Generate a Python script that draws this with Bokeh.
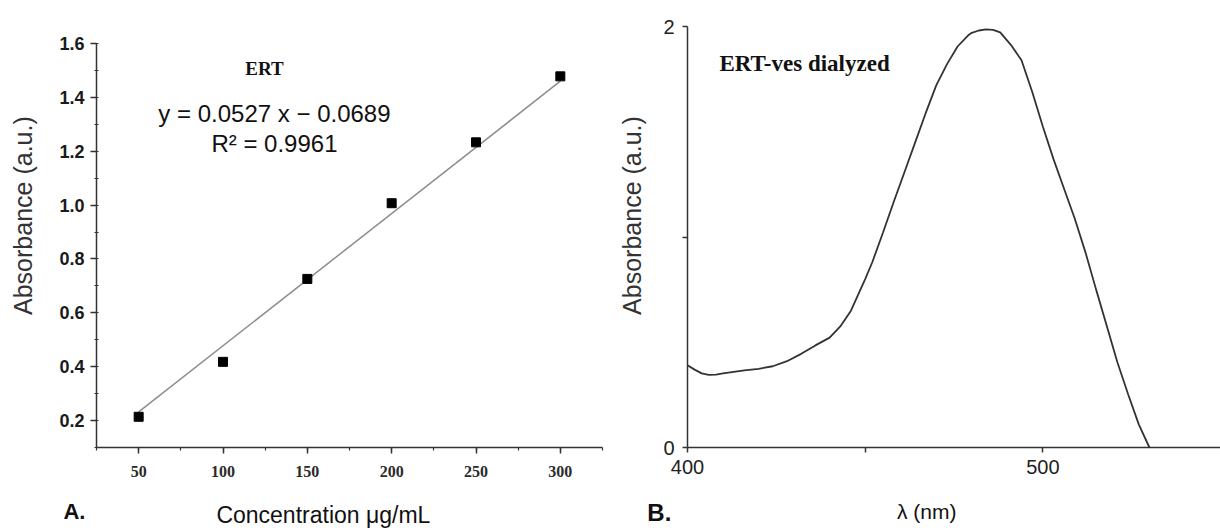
from math import pi
from bokeh.plotting import figure
from bokeh.layouts import row
from bokeh.models import Label, SingleIntervalTicker, FixedTicker, Range1d, PrintfTickFormatter
from bokeh.embed import file_html
from bokeh.resources import INLINE

# ---- Panel A data: calibration curve ----
conc = [50, 100, 150, 200, 250, 300]
absorb = [0.214, 0.418, 0.726, 1.007, 1.233, 1.478]
fit_x = [50, 300]
fit_y = [0.232, 1.46]

# ---- Panel B data: spectrum ----
wl = [400, 402, 404, 406, 408, 410, 413, 416, 420, 424, 428, 432, 436, 440, 443, 446,
      448, 450, 452, 455, 458, 461, 464, 467, 470, 473, 476, 479, 480, 482, 484, 486, 488,
      491, 494, 497, 500, 503, 506, 509, 512, 515, 518, 521, 524, 527, 530]
spec = [0.391, 0.37, 0.352, 0.345, 0.346, 0.352, 0.359, 0.366, 0.374, 0.386, 0.41, 0.445,
        0.485, 0.522, 0.575, 0.65, 0.725, 0.80, 0.88, 1.02, 1.165, 1.305, 1.446, 1.587, 1.72,
        1.82, 1.905, 1.958, 1.97, 1.981, 1.986, 1.984, 1.972, 1.913, 1.84, 1.69, 1.525, 1.37,
        1.228, 1.087, 0.927, 0.75, 0.577, 0.404, 0.253, 0.11, 0.0]

SANS = "Liberation Sans"
SERIF = "Liberation Serif"
AX = "#333333"
H = 531
TOP = 26
BOTTOM = 84


def style(p):
    p.outline_line_color = None
    p.xgrid.visible = False
    p.ygrid.visible = False
    p.background_fill_color = "white"
    p.border_fill_color = "white"
    for ax in (p.xaxis[0], p.yaxis[0]):
        ax.axis_line_color = AX
        ax.axis_line_width = 1.5
        ax.major_tick_line_color = AX
        ax.major_tick_line_width = 1.5
        ax.minor_tick_line_color = AX
        ax.minor_tick_line_width = 1.2
        ax.major_tick_in = 0
        ax.major_tick_out = 6


def label(p, side, **kw):
    kw.setdefault("text_align", "center")
    kw.setdefault("text_baseline", "middle")
    kw.setdefault("text_color", "#111111")
    lab = Label(**kw)
    if side == "center":
        p.add_layout(lab)
    else:
        p.add_layout(lab, side)


# ---------------- Panel A ----------------
p1 = figure(width=610, height=H, x_range=Range1d(25, 325), y_range=Range1d(0.1, 1.6631),
            output_backend="svg", toolbar_location=None,
            min_border_left=96, min_border_right=8, min_border_top=TOP, min_border_bottom=BOTTOM)
style(p1)
p1.yaxis.bounds = (0.1, 1.6)
p1.xaxis.ticker = SingleIntervalTicker(interval=50, num_minor_ticks=2)
p1.yaxis.ticker = SingleIntervalTicker(interval=0.2, num_minor_ticks=2)
p1.yaxis.formatter = PrintfTickFormatter(format="%.1f")
p1.xaxis.minor_tick_in = 0
p1.xaxis.minor_tick_out = 3
p1.yaxis.minor_tick_in = 2
p1.yaxis.minor_tick_out = 2
p1.yaxis.major_label_text_font = SANS
p1.yaxis.major_label_text_font_style = "bold"
p1.yaxis.major_label_text_font_size = "18px"
p1.yaxis.major_label_text_color = "#1a1a1a"
p1.yaxis.major_label_standoff = 6
p1.xaxis.major_label_text_font = SERIF
p1.xaxis.major_label_text_font_style = "bold"
p1.xaxis.major_label_text_font_size = "16px"
p1.xaxis.major_label_text_color = "#2a2a2a"
p1.xaxis.major_label_standoff = 12

p1.line(fit_x, fit_y, line_color="#8c8c8c", line_width=1.5)
p1.scatter(conc, absorb, marker="square", size=9, fill_color="black", line_color="black")

label(p1, "center", x=124.6, y=1.507, text="ERT", text_font=SERIF, text_font_style="bold",
      text_font_size="19px")
label(p1, "center", x=130.5, y=1.340, text="y = 0.0527 x \u2212 0.0689", text_font=SANS,
      text_font_size="24px")
label(p1, "center", x=130.5, y=1.229, text="R\u00b2 = 0.9961", text_font=SANS,
      text_font_size="24px")
label(p1, "left", x=-18.3, y=0.961, text="Absorbance (a.u.)", angle=pi / 2, text_font=SANS,
      text_font_size="25px", text_color="#333333")
label(p1, "below", x=161.4, y=-0.152, text="Concentration  \u03bcg/mL", text_font=SANS,
      text_font_size="23px")
label(p1, "left", x=5.4, y=-0.138, text="A.", text_font=SANS, text_font_style="bold",
      text_font_size="22px", text_align="left")

# ---------------- Panel B ----------------
p2 = figure(width=610, height=H, x_range=Range1d(400, 550), y_range=Range1d(0, 2),
            output_backend="svg", toolbar_location=None,
            min_border_left=77, min_border_right=0, min_border_top=TOP, min_border_bottom=BOTTOM)
style(p2)
p2.xaxis.ticker = FixedTicker(ticks=[400, 450, 500])
p2.yaxis.ticker = FixedTicker(ticks=[0, 1, 2])
p2.xaxis.major_label_overrides = {450: ""}
p2.yaxis.major_label_overrides = {1: ""}
p2.xaxis.minor_tick_line_color = None
p2.yaxis.minor_tick_line_color = None
p2.xaxis.major_tick_out = 5
p2.yaxis.major_tick_out = 5
for ax in (p2.xaxis[0], p2.yaxis[0]):
    ax.major_label_text_font = SANS
    ax.major_label_text_font_size = "20px"
    ax.major_label_text_color = "#222222"
p2.yaxis.major_label_standoff = 8
p2.xaxis.major_label_standoff = 7

p2.line(wl, spec, line_color="#333333", line_width=1.8)

label(p2, "center", x=409.0, y=1.824, text="ERT-ves dialyzed", text_font=SERIF,
      text_font_style="bold", text_font_size="23px", text_align="left")
label(p2, "left", x=384.5, y=1.102, text="Absorbance (a.u.)", angle=pi / 2, text_font=SANS,
      text_font_size="25px", text_color="#333333")
label(p2, "above", x=467.3, y=-0.304, text="\u03bb (nm)", text_font=SANS,
      text_font_size="21px")
label(p2, "below", x=388.7, y=-0.309, text="B.", text_font=SANS, text_font_style="bold",
      text_font_size="24px", text_align="left")

layout = row(p1, p2)
open("out.html", "w").write(file_html(layout, INLINE))
